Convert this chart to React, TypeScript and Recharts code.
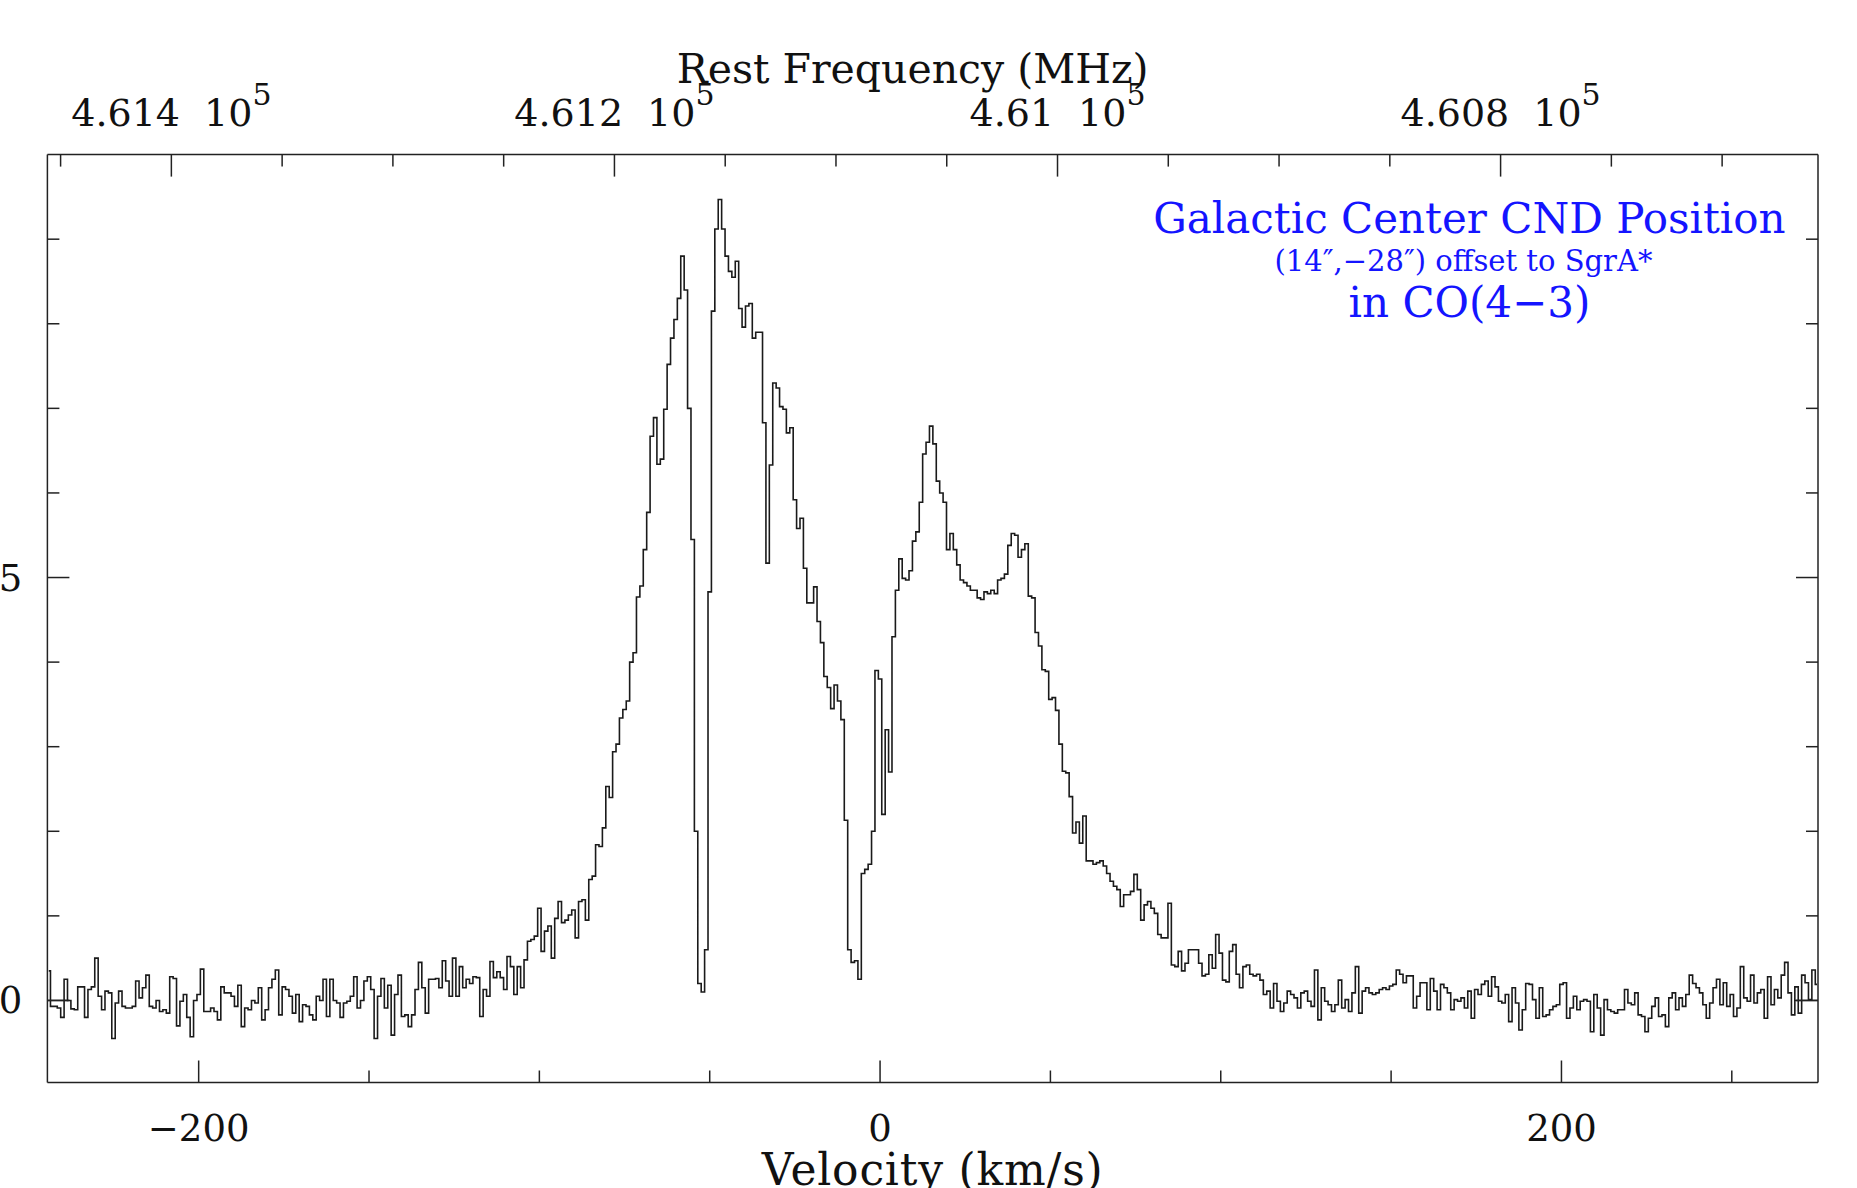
import React from "react";
import { ComposedChart, Line, XAxis, YAxis, ReferenceDot, ReferenceLine, Label } from "recharts";

// spectrum channel grid (km/s)
const V_START = -244;
const CHANNEL_WIDTH = 1;

// antenna temperature per channel
const BASELINE_LEFT = [
  0.35, -0.07, -0.07, -0.09, -0.2, 0.25, 0.0, -0.1, -0.11, 0.16,
  0.16, -0.2, 0.13, 0.16, 0.5, 0.05, -0.11, 0.11, 0.09, -0.45,
  -0.03, 0.11, -0.07, -0.09, -0.09, -0.07, 0.23, 0.03, 0.15, 0.3,
  -0.07, -0.09, 0.0, -0.13, -0.11, -0.15, 0.28, 0.26, -0.3, -0.01,
  0.07, -0.2, -0.43, 0.0, 0.07, 0.37, -0.13, -0.13, -0.09, -0.13,
  -0.23, 0.16, 0.09, 0.09, 0.05, -0.07, 0.18, -0.31, -0.09, -0.11,
  0.0, -0.03, 0.15, -0.23, -0.11, 0.15, 0.25, 0.36, -0.17, 0.16,
  0.13, 0.05, -0.15, 0.07, -0.25, -0.05, -0.07, -0.17, -0.23, 0.05,
  0.0, 0.25, -0.19, 0.25, 0.0, -0.03, -0.2, -0.03, -0.01, 0.05,
  0.28, -0.09, 0.0, 0.23, 0.28, 0.13, -0.45, 0.05, 0.26, -0.09,
  0.18, -0.41, 0.07, 0.3, -0.19, -0.17, -0.31, -0.17, 0.13, 0.45,
  0.15, -0.15, 0.25, 0.25, 0.26, 0.15, 0.47, 0.23, 0.05, 0.5,
  0.05, 0.4, 0.15, 0.25, 0.2,
];
const RISE = [
  0.28, 0.27, -0.19, 0.13, 0.05, 0.46, 0.27, 0.34, 0.27, 0.13,
  0.52, 0.4, 0.07, 0.4, 0.15, 0.48, 0.7, 0.72, 0.76, 1.09,
  0.58, 0.82, 0.88, 0.5, 0.97, 1.17, 0.92, 0.95, 1.01, 1.07,
  0.74, 1.17, 1.19, 0.95, 1.43, 1.47, 1.84, 1.82, 2.04, 2.53,
  2.4, 2.94, 3.03, 3.34, 3.44, 3.54, 4.0, 4.11, 4.77,
];
const MAIN_PEAKS = [
  4.9, 5.33, 5.77, 6.67, 6.89, 6.34, 6.4, 6.99, 7.52, 7.83,
  8.05, 8.3, 8.8, 8.4, 7.0, 5.45, 2.0, 0.2, 0.1, 0.6,
  4.83, 8.15, 9.12, 9.47, 9.12, 8.8, 8.62, 8.55, 8.74, 8.18,
  7.96, 8.21, 8.24, 7.83, 7.9, 7.9, 6.83, 5.17, 6.33, 7.3,
  7.24, 7.02, 6.99, 6.71, 6.77, 5.92, 5.58, 5.7, 5.11, 4.7,
  4.7, 4.89, 4.48, 4.23, 3.83, 3.7, 3.45, 3.73, 3.54, 3.32,
  2.13, 0.6, 0.45, 0.47, 0.25, 1.5,
];
const SECOND_COMPONENT = [
  1.55, 1.61, 2.0, 3.9, 3.8, 2.2, 3.2, 2.7, 4.3, 4.85,
  5.22, 4.99, 4.97, 5.08, 5.43, 5.54, 5.89, 6.46, 6.6, 6.79,
  6.58, 6.14, 6.0, 5.89, 5.33, 5.52, 5.33, 5.15, 4.97, 4.94,
  4.9, 4.85, 4.85, 4.76, 4.74, 4.83, 4.81, 4.85, 4.81, 4.97,
  4.99, 5.04, 5.38, 5.52, 5.5, 5.24, 5.33, 5.4, 4.78, 4.76,
  4.35, 4.19, 3.91, 3.89, 3.56, 3.58, 3.43, 3.03, 2.71, 2.69,
  2.41, 1.98, 2.11, 1.86, 2.18, 1.65, 1.65, 1.61, 1.63,
];
const TAIL = [
  1.65, 1.59, 1.5, 1.41, 1.35, 1.31, 1.11, 1.25, 1.25, 1.29,
  1.49, 1.31, 0.95, 1.13, 1.17, 1.09, 1.03, 0.78, 0.74, 0.74,
  1.15, 0.42, 0.4, 0.58, 0.35, 0.44, 0.6, 0.6, 0.6, 0.44,
  0.29, 0.31, 0.54, 0.38, 0.78, 0.56, 0.24, 0.22, 0.58, 0.66,
  0.31, 0.15, 0.4, 0.42, 0.31, 0.29, 0.31, 0.24, 0.07, 0.11,
  -0.09, 0.2, -0.01, -0.13, -0.03, 0.11, 0.07, 0.03, -0.09, 0.09,
  0.11, -0.01, -0.07, 0.36, -0.23, 0.15, -0.01, -0.05, -0.13, -0.05,
  0.24, -0.09, 0.01, -0.13, 0.09, 0.4, -0.15, 0.11, 0.15, 0.09,
  0.07, 0.09, 0.13, 0.15, 0.13, 0.17, 0.19, 0.36, 0.31, 0.21,
  0.29, 0.29, -0.09, 0.05, 0.21, 0.21, -0.11, 0.26, 0.11, -0.11,
  0.19, 0.15, 0.09, -0.11, 0.01, -0.01, 0.03, -0.09, 0.11, -0.21,
  0.13,
];
const BASELINE_RIGHT = [
  0.07, 0.19, 0.23, 0.05, 0.28, 0.16, -0.01, -0.03, 0.07, -0.25,
  0.15, -0.03, -0.35, -0.11, 0.2, 0.19, 0.01, -0.21, 0.15, -0.19,
  -0.17, -0.11, -0.07, -0.05, 0.19, 0.21, -0.21, -0.09, 0.05, -0.11,
  -0.01, 0.01, -0.01, -0.37, 0.07, -0.09, -0.41, 0.01, -0.11, -0.13,
  -0.15, -0.11, -0.11, 0.13, -0.03, -0.05, 0.09, -0.17, -0.19, -0.37,
  -0.21, -0.07, 0.03, -0.19, -0.17, -0.31, 0.03, 0.09, -0.11, 0.03,
  -0.07, 0.07, 0.3, 0.2, 0.15, 0.09, -0.05, -0.21, -0.03, 0.15,
  0.25, -0.05, 0.21, -0.07, 0.07, -0.19, -0.09, 0.4, 0.03, -0.01,
  0.3, -0.03, 0.09, 0.13, -0.21, 0.28, -0.05, 0.13, 0.03, 0.3,
  0.45, 0.09, -0.17, 0.16, -0.15, 0.3, 0.21, 0.01, 0.36, 0.19,
];

const TMB = [...BASELINE_LEFT, ...RISE, ...MAIN_PEAKS, ...SECOND_COMPONENT, ...TAIL, ...BASELINE_RIGHT];

const V_DOMAIN: [number, number] = [-244.4, 275.3];
const T_DOMAIN: [number, number] = [-0.97, 10];
const V_TICKS = [-200, -150, -100, -50, 0, 50, 100, 150, 200, 250];
const V_LABELLED = [-200, 0, 200];
const T_TICKS = [0, 1, 2, 3, 4, 5, 6, 7, 8, 9];
const T_LABELLED = [0, 5];

// rest frequency axis (MHz), linear in velocity
const F_AT_V0 = 461080.1;
const MHZ_PER_KMS = 1.53787;
const F_DOMAIN: [number, number] = [
  F_AT_V0 - V_DOMAIN[1] * MHZ_PER_KMS,
  F_AT_V0 - V_DOMAIN[0] * MHZ_PER_KMS,
];
const F_TICKS = [461450, 461400, 461350, 461300, 461250, 461200, 461150, 461100, 461050, 461000, 460950, 460900, 460850, 460800, 460750, 460700];
const F_LABELLED = [461400, 461200, 461000, 460800];

const NOTE_LINES = ["Galactic Center CND Position", "(14\u2033,\u221228\u2033) offset to SgrA*", "in CO(4\u22123)"];

const FONT = '"DejaVu Serif", "Liberation Serif", serif';
const INK = "#222";
const BLUE = "#1414ff";

const data = TMB.map((t, i) => {
  const v = V_START + i * CHANNEL_WIDTH;
  return { v, f: F_AT_V0 - v * MHZ_PER_KMS, t };
});

function fmtV(v: number) {
  return v < 0 ? `\u2212${-v}` : String(v);
}

function VelocityTick({ x, y, payload }: any) {
  const major = V_LABELLED.includes(payload.value);
  return (
    <g>
      <line x1={x} x2={x} y1={y} y2={y - (major ? 22 : 12)} stroke={INK} strokeWidth={1.5} />
      {major && (
        <text x={x} y={y + 58} textAnchor="middle" fontFamily={FONT} fontSize={37} fill="#111">
          {fmtV(payload.value)}
        </text>
      )}
    </g>
  );
}

function FreqTick({ x, y, payload }: any) {
  const major = F_LABELLED.includes(payload.value);
  const mant = String(Number((payload.value / 1e5).toFixed(4)));
  return (
    <g>
      <line x1={x} x2={x} y1={y} y2={y + (major ? 22 : 12)} stroke={INK} strokeWidth={1.5} />
      {major && (
        <text x={x} y={y - 29} textAnchor="middle" fontFamily={FONT} fontSize={38} fill="#111">
          <tspan>{mant}</tspan>
          <tspan dx={24}>10</tspan>
          <tspan dy={-21} fontSize={30}>5</tspan>
        </text>
      )}
    </g>
  );
}

function LeftTick({ x, y, payload }: any) {
  const major = T_LABELLED.includes(payload.value);
  return (
    <g>
      <line x1={x} x2={x + (major ? 22 : 12)} y1={y} y2={y} stroke={INK} strokeWidth={1.5} />
      {major && (
        <text x={x - 25} y={y + 13} textAnchor="end" fontFamily={FONT} fontSize={37} fill="#111">
          {payload.value}
        </text>
      )}
    </g>
  );
}

function RightTick({ x, y, payload }: any) {
  const major = T_LABELLED.includes(payload.value);
  return <line x1={x} x2={x - (major ? 22 : 12)} y1={y} y2={y} stroke={INK} strokeWidth={1.5} />;
}

function TopTitle({ viewBox }: any) {
  const cx = viewBox.x + viewBox.width / 2 - 20;
  return (
    <text x={cx} y={viewBox.y + 83} textAnchor="middle" fontFamily={FONT} fontSize={41} fill="#111">
      Rest Frequency (MHz)
    </text>
  );
}

function BottomTitle({ viewBox }: any) {
  const cx = viewBox.x + viewBox.width / 2;
  return (
    <text x={cx} y={viewBox.y + 102} textAnchor="middle" fontFamily={FONT} fontSize={44} letterSpacing={0.8} fill="#111">
      Velocity (km/s)
    </text>
  );
}

function Note({ viewBox }: any) {
  const cx = viewBox.x;
  const cy = viewBox.y;
  return (
    <g fontFamily={FONT} fill={BLUE} textAnchor="middle">
      <text x={cx} y={cy} fontSize={42}>{NOTE_LINES[0]}</text>
      <text x={cx - 6} y={cy + 38} fontSize={29}>{NOTE_LINES[1]}</text>
      <text x={cx} y={cy + 84} fontSize={42}>{NOTE_LINES[2]}</text>
    </g>
  );
}

export default function App() {
  return (
    <div style={{ position: "absolute", left: 0, top: 0, width: 1857, height: 1188, background: "#fff" }}>
      <ComposedChart width={1857} height={1188} data={data} margin={{ top: 0, right: 0, bottom: 0, left: 0 }}>
        <XAxis
          xAxisId="v"
          dataKey="v"
          type="number"
          orientation="bottom"
          domain={V_DOMAIN}
          allowDataOverflow
          ticks={V_TICKS}
          interval={0}
          height={105.5}
          tickSize={0}
          tickMargin={0}
          tickLine={false}
          axisLine={{ stroke: INK, strokeWidth: 1.5 }}
          tick={(p: any) => <VelocityTick {...p} />}
        >
          <Label content={(p: any) => <BottomTitle {...p} />} />
        </XAxis>
        <XAxis
          xAxisId="f"
          dataKey="f"
          type="number"
          orientation="top"
          domain={F_DOMAIN}
          reversed
          allowDataOverflow
          ticks={F_TICKS}
          interval={0}
          height={154.6}
          tickSize={0}
          tickMargin={0}
          tickLine={false}
          axisLine={{ stroke: INK, strokeWidth: 1.5 }}
          tick={(p: any) => <FreqTick {...p} />}
        >
          <Label content={(p: any) => <TopTitle {...p} />} />
        </XAxis>
        <YAxis
          yAxisId="l"
          type="number"
          orientation="left"
          domain={T_DOMAIN}
          allowDataOverflow
          ticks={T_TICKS}
          interval={0}
          width={47.4}
          tickSize={0}
          tickMargin={0}
          tickLine={false}
          axisLine={{ stroke: INK, strokeWidth: 1.5 }}
          tick={(p: any) => <LeftTick {...p} />}
        />
        <YAxis
          yAxisId="r"
          type="number"
          orientation="right"
          domain={T_DOMAIN}
          allowDataOverflow
          ticks={T_TICKS}
          interval={0}
          width={39}
          tickSize={0}
          tickMargin={0}
          tickLine={false}
          axisLine={{ stroke: INK, strokeWidth: 1.5 }}
          tick={(p: any) => <RightTick {...p} />}
        />
        <ReferenceLine
          xAxisId="v"
          yAxisId="l"
          segment={[{ x: -244.4, y: 0 }, { x: -238.3, y: 0 }]}
          stroke={INK}
          strokeWidth={1.5}
          ifOverflow="visible"
        />
        <ReferenceLine
          xAxisId="v"
          yAxisId="l"
          segment={[{ x: 268.5, y: 0 }, { x: 275.3, y: 0 }]}
          stroke={INK}
          strokeWidth={1.5}
          ifOverflow="visible"
        />
        {/* invisible trace that ties the frequency axis to the same channels */}
        <Line
          xAxisId="f"
          yAxisId="r"
          dataKey="t"
          type="step"
          stroke="none"
          dot={false}
          activeDot={false}
          legendType="none"
          isAnimationActive={false}
        />
        <Line
          xAxisId="v"
          yAxisId="l"
          dataKey="t"
          type="step"
          stroke="#1a1a1a"
          strokeWidth={1.6}
          dot={false}
          activeDot={false}
          isAnimationActive={false}
        />
        <ReferenceDot
          xAxisId="v"
          yAxisId="l"
          x={173}
          y={9.07}
          r={0}
          fill="none"
          stroke="none"
          ifOverflow="visible"
          label={(p: any) => <Note {...p} />}
        />
      </ComposedChart>
    </div>
  );
}
